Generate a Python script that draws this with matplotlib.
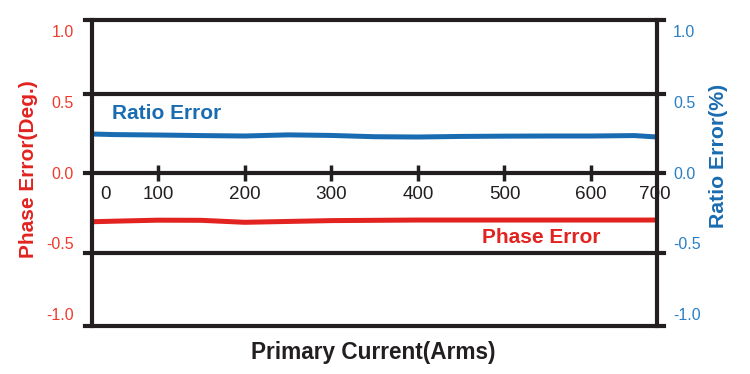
import matplotlib.pyplot as plt
import numpy as np

plt.rcParams['font.family'] = ['Liberation Sans', 'DejaVu Sans']

# data
current = [25, 50, 100, 150, 200, 250, 300, 350, 400, 450, 500, 550, 600, 650, 676]
ratio_err = [0.272, 0.268, 0.265, 0.261, 0.258, 0.266, 0.262, 0.253, 0.251,
             0.255, 0.257, 0.258, 0.258, 0.261, 0.251]
phase_err = [-0.348, -0.344, -0.337, -0.338, -0.352, -0.346, -0.340, -0.338,
             -0.336, -0.336, -0.336, -0.336, -0.336, -0.336, -0.336]

x_tick_pos = [40, 100, 200, 300, 400, 500, 600, 674]
x_tick_lab = ['0', '100', '200', '300', '400', '500', '600', '700']
y_ticks = [-1.0, -0.5, 0.0, 0.5, 1.0]
y_tick_lab = ['-1.0', '-0.5', '0.0', '0.5', '1.0']

red = '#e2231f'
blue = '#1a6cb2'
red_lab = '#ee3b2d'
blue_lab = '#2a7fc6'

fig = plt.figure(figsize=(7.5, 3.74), dpi=100)
ax = fig.add_axes([92/750, 1-326/374, 565/750, 306/374])

ax.set_xlim(24, 676)
ax.set_ylim(-1.085, 1.078)

# frame lines (drawn a bit past the side spines)
for yy in [1.078, 0.555, 0.0, -0.569, -1.085]:
    ax.axhline(yy, xmin=-0.013, xmax=1.012, color='#231f20', lw=3, clip_on=False, zorder=3)

ax.plot(current, ratio_err, color=blue, lw=3.6, solid_capstyle='butt', zorder=2)
ax.plot(current, phase_err, color=red, lw=3.6, solid_capstyle='butt', zorder=2)

ax.text(47, 0.42, 'Ratio Error', color=blue, fontsize=15, fontweight='bold', va='center')
ax.text(474, -0.456, 'Phase Error', color=red, fontsize=15, fontweight='bold', va='center')

for s in ['top', 'bottom']:
    ax.spines[s].set_visible(False)
ax.spines['bottom'].set_position(('data', 0))
for s in ['left', 'right']:
    ax.spines[s].set_linewidth(3)
    ax.spines[s].set_color('#231f20')

ax.set_xticks(x_tick_pos)
ax.set_xticklabels(x_tick_lab)
ax.tick_params(axis='x', direction='inout', length=12, width=2.5, color='#231f20',
               labelsize=13.6, pad=4, labelcolor='#231f20')
ticks = ax.xaxis.get_major_ticks()
ticks[0].tick1line.set_visible(False)
ticks[-1].tick1line.set_visible(False)

ax.set_yticks(y_ticks)
ax.set_yticklabels(y_tick_lab)
ax.tick_params(axis='y', length=0, labelsize=11.5, labelcolor=red_lab, pad=13)

ax2 = ax.twinx()
ax2.set_ylim(ax.get_ylim())
ax2.set_yticks(y_ticks)
ax2.set_yticklabels(y_tick_lab)
ax2.tick_params(axis='y', length=0, labelsize=11.5, labelcolor=blue_lab, pad=11.5)
for s in ax2.spines.values():
    s.set_visible(False)

fig.text(29/750, 1-169/374, 'Phase Error(Deg.)', rotation=90, color=red,
         fontsize=15, fontweight='bold', ha='center', va='center')
fig.text(718/750, 1-156/374, 'Ratio Error(%)', rotation=90, color=blue,
         fontsize=15.3, fontweight='bold', ha='center', va='center')
fig.text(373/750, 1-353/374, 'Primary Current(Arms)', color='#231f20',
         fontsize=16.3, fontweight='bold', ha='center', va='center')

fig.savefig('out.png', dpi=100)
